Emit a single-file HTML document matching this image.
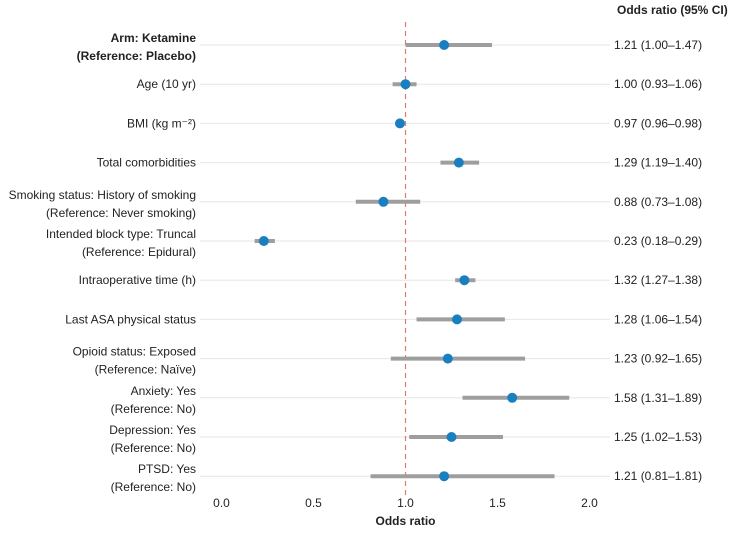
<!DOCTYPE html>
<html><head><meta charset="utf-8"><style>
body{margin:0;background:#fff;}
svg text{font-family:"Liberation Sans",sans-serif;font-size:12px;fill:#222;}
</style></head><body>
<svg id="c" width="734" height="531" xmlns="http://www.w3.org/2000/svg"></svg>
<script>
const labels=[["Arm: Ketamine","(Reference: Placebo)"],["Age (10 yr)"],["BMI (kg m⁻²)"],["Total comorbidities"],["Smoking status: History of smoking","(Reference: Never smoking)"],["Intended block type: Truncal","(Reference: Epidural)"],["Intraoperative time (h)"],["Last ASA physical status"],["Opioid status: Exposed","(Reference: Naïve)"],["Anxiety: Yes","(Reference: No)"],["Depression: Yes","(Reference: No)"],["PTSD: Yes","(Reference: No)"]];
const estimates=[1.21,1.00,0.97,1.29,0.88,0.23,1.32,1.28,1.23,1.58,1.25,1.21];
const lowers=[1.00,0.93,0.96,1.19,0.73,0.18,1.27,1.06,0.92,1.31,1.02,0.81];
const uppers=[1.47,1.06,0.98,1.40,1.08,0.29,1.38,1.54,1.65,1.89,1.53,1.81];
const ticks=[0,0.5,1.0,1.5,2.0];
const NS="http://www.w3.org/2000/svg";
const svg=document.getElementById('c');
const xs=v=>221.5+v*184;
const ys=i=>45+i*39.2;
function mk(t,a,p){const e=document.createElementNS(NS,t);for(const k in a)e.setAttribute(k,a[k]);(p||svg).appendChild(e);return e;}
labels.forEach((l,i)=>{
 const g=mk('line',{x1:200,x2:610,y1:ys(i),y2:ys(i),stroke:'#e6e6e6','stroke-width':1});
 
 
 const t=mk('text',{x:196,y:l.length>1?ys(i)-3:ys(i)+4,'text-anchor':'end','font-weight':i==0?'bold':'normal'});
 
 
 l.forEach((s,j)=>{const ts=mk('tspan',{x:196,dy:j?18:0},t);ts.textContent=s;});
 const v=mk('text',{x:614,y:ys(i)+4});
 
 
 v.textContent=estimates[i].toFixed(2)+' ('+lowers[i].toFixed(2)+'–'+uppers[i].toFixed(2)+')';
});
const ref=mk('line',{x1:xs(1),x2:xs(1),y1:22,y2:495,stroke:'#e07a70','stroke-width':1.2,'stroke-dasharray':'5,4'});


labels.forEach((l,i)=>{
 const ci=mk('line',{x1:xs(lowers[i]),x2:xs(uppers[i]),y1:ys(i),y2:ys(i),stroke:'#9e9e9e','stroke-width':4});
 
 
 const p=mk('circle',{cx:xs(estimates[i]),cy:ys(i),r:5,fill:'#1a7fc1'});
 
 
});
ticks.forEach(t=>{
 const e=mk('text',{x:xs(t),y:507,'text-anchor':'middle',fill:'#444'});
 
 
 e.textContent=t.toFixed(1);
});
const xt=mk('text',{x:xs(1),y:525,'text-anchor':'middle','font-weight':'bold'});


xt.textContent='Odds ratio';
const h=mk('text',{x:617,y:14,'font-weight':'bold'});


h.textContent='Odds ratio (95% CI)';
</script>
</body></html>
